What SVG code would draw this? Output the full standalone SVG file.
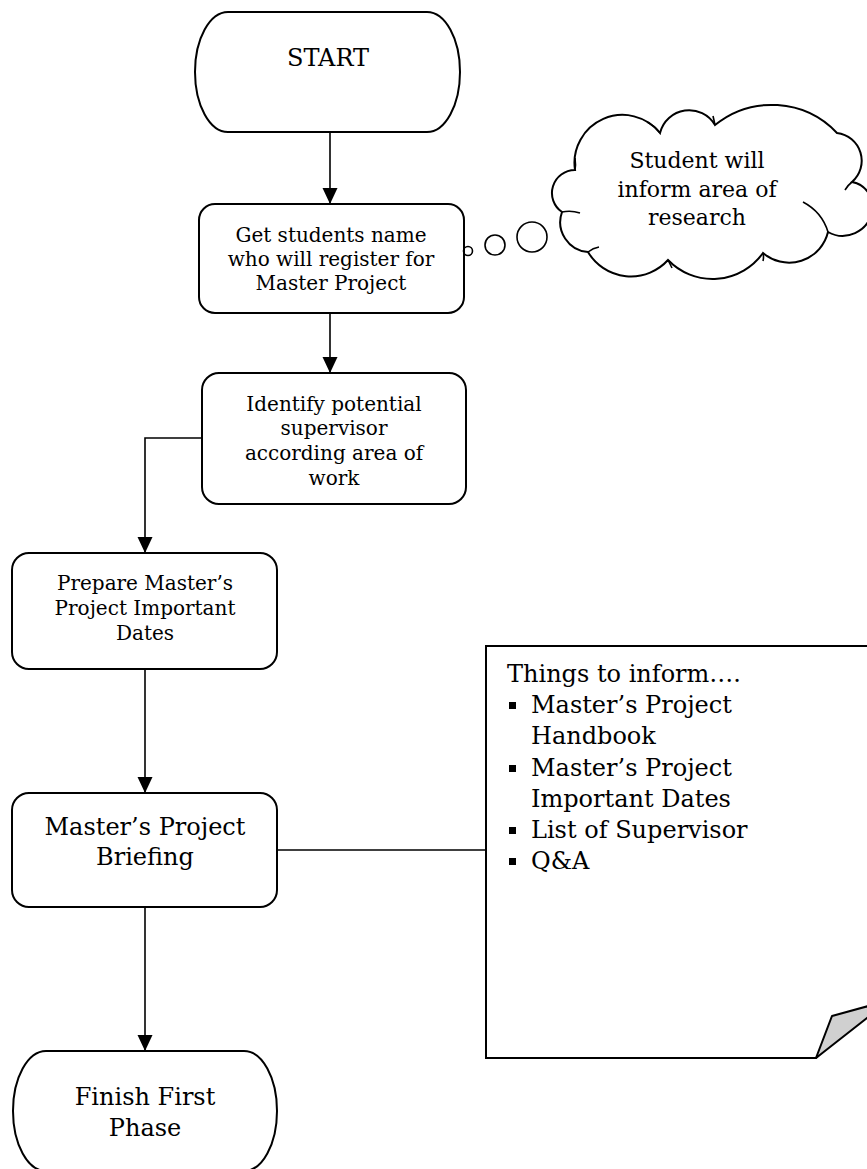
<svg xmlns="http://www.w3.org/2000/svg" width="867" height="1169" viewBox="0 0 867 1169">
<style>
.shape{fill:#fff;stroke:#000;stroke-width:2}
.conn{fill:none;stroke:#000;stroke-width:1.6}
.thin{fill:none;stroke:#000;stroke-width:1.6}
text{font-family:"DejaVu Serif","Liberation Serif",serif;fill:#000}
.t20{font-size:20px;text-anchor:middle}
.t24{font-size:24px;text-anchor:middle}
.t22{font-size:22px;text-anchor:middle}
.note{font-size:24px}
</style>
<defs>
<marker id="arr" markerUnits="userSpaceOnUse" markerWidth="16" markerHeight="16" refX="16" refY="7.5" orient="auto">
<path d="M0,0 L16,7.5 L0,15 Z" fill="#000"/>
</marker>
</defs>
<rect width="867" height="1169" fill="#fff"/>

<g id="connectors">
<path class="conn" d="M330 132 V204" marker-end="url(#arr)"/>
<path class="conn" d="M330 313 V373" marker-end="url(#arr)"/>
<path class="conn" d="M202 438 H145 V553" marker-end="url(#arr)"/>
<path class="conn" d="M145 669 V793" marker-end="url(#arr)"/>
<path class="conn" d="M145 907 V1051" marker-end="url(#arr)"/>
<path class="conn" d="M277 850 H486"/>
</g>

<g id="start">
<path class="shape" d="M228 12 H427 A33 60 0 0 1 427 132 H228 A33 60 0 0 1 228 12 Z"/>
<text class="t24" x="328" y="66">START</text>
</g>

<g id="get-students">
<rect class="shape" x="199" y="204" width="265" height="109" rx="16"/>
<text class="t20" x="331" y="242">Get students name</text>
<text class="t20" x="331" y="266">who will register for</text>
<text class="t20" x="331" y="290">Master Project</text>
</g>

<g id="cloud">
<circle class="thin" cx="468" cy="251" r="4.5" fill="#fff"/>
<circle class="thin" cx="495" cy="245" r="10" fill="#fff"/>
<circle class="thin" cx="532" cy="237" r="15" fill="#fff"/>
<path class="shape" d="M575 170 A48 48 0 0 1 660 133 A30 30 0 0 1 715 125 A90 90 0 0 1 837 133 A28 28 0 0 1 852 182 A25 25 0 0 1 872 212 A30 30 0 0 1 828 232 A40 40 0 0 1 763 253 A62 62 0 0 1 668 260 A50 50 0 0 1 588 252 A30 30 0 0 1 562 212 A23 23 0 0 1 575 170 Z"/>
<path class="thin" d="M562 212 Q571 210 580 213"/>
<path class="thin" d="M588 252 Q593 248 599 247"/>
<path class="thin" d="M668 260 Q670 264 672 268"/>
<path class="thin" d="M763 253 Q764 257 763 261"/>
<path class="thin" d="M803 202 Q822 212 828 232"/>
<path class="thin" d="M852 182 Q848 185 845 190"/>
<path class="thin" d="M647 122 Q655 126 660 133"/>
<path class="thin" d="M715 125 Q714 120 713 116"/>
<path class="thin" d="M575 170 Q576 165 575 158"/>
<text class="t22" x="697" y="168">Student will</text>
<text class="t22" x="697" y="197">inform area of</text>
<text class="t22" x="697" y="225">research</text>
</g>

<g id="identify">
<rect class="shape" x="202" y="373" width="264" height="131" rx="17"/>
<text class="t20" x="334" y="411">Identify potential</text>
<text class="t20" x="334" y="435">supervisor</text>
<text class="t20" x="334" y="460">according area of</text>
<text class="t20" x="334" y="485">work</text>
</g>

<g id="prepare">
<rect class="shape" x="12" y="553" width="265" height="116" rx="17"/>
<text class="t20" x="145" y="590">Prepare Master’s</text>
<text class="t20" x="145" y="615">Project Important</text>
<text class="t20" x="145" y="640">Dates</text>
</g>

<g id="briefing">
<rect class="shape" x="12" y="793" width="265" height="114" rx="17"/>
<text class="t24" x="145" y="835">Master’s Project</text>
<text class="t24" x="145" y="865">Briefing</text>
</g>

<g id="finish">
<path class="shape" d="M46 1051 H244 A33 60 0 0 1 244 1171 H46 A33 60 0 0 1 46 1051 Z"/>
<text class="t24" x="145" y="1105">Finish First</text>
<text class="t24" x="145" y="1136">Phase</text>
</g>

<g id="note">
<path class="shape" d="M486 646 H900 V974 L816 1058 H486 Z"/>
<path d="M832 1016 L890 1000 L816 1058 Z" fill="#d0d0d0" stroke="#000" stroke-width="2" stroke-linejoin="round"/>
<text class="note" x="507" y="682">Things to inform….</text>
<rect x="509" y="702" width="7" height="7" fill="#000"/>
<text class="note" x="531" y="713">Master’s Project</text>
<text class="note" x="531" y="744">Handbook</text>
<rect x="509" y="765" width="7" height="7" fill="#000"/>
<text class="note" x="531" y="776">Master’s Project</text>
<text class="note" x="531" y="807">Important Dates</text>
<rect x="509" y="827" width="7" height="7" fill="#000"/>
<text class="note" x="531" y="838">List of Supervisor</text>
<rect x="509" y="858" width="7" height="7" fill="#000"/>
<text class="note" x="531" y="869">Q&amp;A</text>
</g>
</svg>
